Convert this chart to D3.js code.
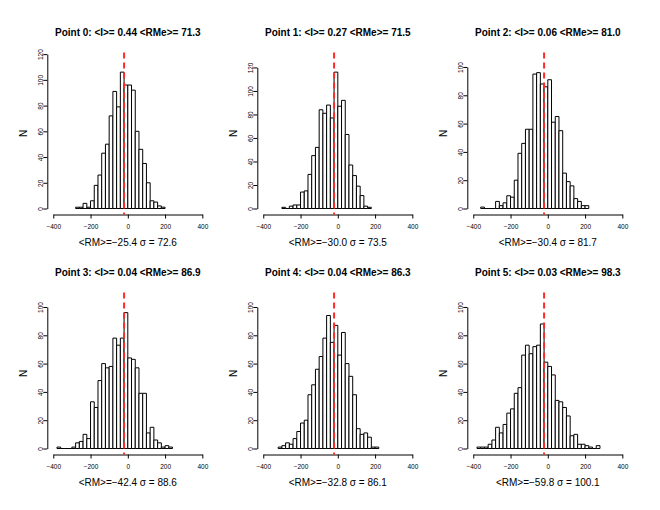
<!DOCTYPE html>
<html>
<head>
<meta charset="utf-8">
<script src="https://cdn.jsdelivr.net/npm/d3@7"></script>
<style>
  body { margin: 0; background: #fff; }
  svg { display: block; }
</style>
</head>
<body>
<script>
// Histogram counts per panel (bin width 20)
const binWidth = 20;
const binStarts = [-280, -300, -360, -380, -320, -380];
const counts0 = [1,1,4,1,6,18,26,43,50,72,91,79,106,96,96,92,60,46,35,20,6,5,2,1];
const counts1 = [1,0,2,3,3,14,15,29,45,52,84,81,88,77,116,87,92,63,37,28,19,11,2,1];
const counts2 = [1,0,0,0,5,2,4,9,8,20,39,46,56,56,95,96,88,86,91,61,65,55,25,19,16,7,5,2,2];
const counts3 = [1,0,0,0,1,4,5,10,7,33,29,48,60,57,58,78,73,78,96,64,63,57,39,39,11,15,6,4,1,2,1];
const counts4 = [1,2,4,3,7,12,18,20,38,45,56,65,78,94,75,87,66,82,60,51,38,14,10,11,8,1,1];
const counts5 = [1,1,1,3,6,15,11,17,25,28,39,43,66,73,67,72,73,88,61,58,52,34,33,29,23,9,10,3,3,2,1,0,2];
const allCounts = [counts0, counts1, counts2, counts3, counts4, counts5];

// Panel annotations
const meanI = [0.44, 0.27, 0.06, 0.04, 0.04, 0.03];
const meanRMe = [71.3, 71.5, 81.0, 86.9, 86.3, 98.3];
const meanRM = [-25.4, -30.0, -30.4, -42.4, -32.8, -59.8];
const sigmaRM = [72.6, 73.5, 81.7, 88.6, 86.1, 100.1];

// Axis limits
const xLimits = [-400, 400];
const xTicks = [-400, -200, 0, 200, 400];
const yLimits = [116.6, 127.6, 106, 106, 106, 106];
const refLine = -20;

const width = 660, height = 510;
const colW = 210, rowH = 240;
const plot = { left: 47.3, right: 208.3, top: 52.5, bottom: 214.5 };
const font = "'Liberation Sans', Arial, Helvetica, sans-serif";

const svg = d3.select("body").append("svg")
    .attr("width", width)
    .attr("height", height);

svg.append("rect").attr("width", width).attr("height", height).attr("fill", "#fff");

allCounts.forEach((counts, i) => {
    const col = i % 3, row = Math.floor(i / 3);
    const g = svg.append("g").attr("transform", `translate(${col * colW},${row * rowH})`);

    // R style 4% extension of the limits
    const xPad = 0.04 * (xLimits[1] - xLimits[0]);
    const x = d3.scaleLinear()
        .domain([xLimits[0] - xPad, xLimits[1] + xPad])
        .range([plot.left, plot.right]);
    const yl = yLimits[i];
    const y = d3.scaleLinear()
        .domain([-0.04 * yl, 1.04 * yl])
        .range([plot.bottom, plot.top]);

    const bins = counts.map((n, k) => ({
        x0: binStarts[i] + k * binWidth,
        x1: binStarts[i] + (k + 1) * binWidth,
        n: n
    }));

    // bars (paths so that empty bins still show a line)
    g.selectAll(".bar")
        .data(bins)
        .enter()
        .append("path")
            .attr("class", "bar")
            .attr("d", d => `M${x(d.x0)},${y(0)}V${y(d.n)}H${x(d.x1)}V${y(0)}Z`)
            .attr("fill", "#fff")
            .attr("stroke", "#000")
            .attr("stroke-width", 1);

    // x axis, line only between first and last tick
    const xAxisScale = d3.scaleLinear().domain(xLimits).range([x(xLimits[0]), x(xLimits[1])]);
    const xAxis = g.append("g")
        .attr("transform", `translate(0,${plot.bottom})`)
        .call(d3.axisBottom(xAxisScale).tickValues(xTicks).tickSize(4).tickSizeOuter(0));
    xAxis.attr("font-family", font).attr("font-size", 6.5);
    xAxis.selectAll("text").attr("y", 14.3).attr("dy", "0").attr("fill", "#000");

    // y axis
    const yTicks = d3.range(0, 1.04 * yl + 0.001, 20);
    const yAxisScale = d3.scaleLinear().domain([0, d3.max(yTicks)]).range([y(0), y(d3.max(yTicks))]);
    const yAxis = g.append("g")
        .attr("transform", `translate(${plot.left},0)`)
        .call(d3.axisLeft(yAxisScale).tickValues(yTicks).tickSize(4).tickSizeOuter(0));
    yAxis.attr("font-family", font).attr("font-size", 6.5);
    yAxis.selectAll("text")
        .attr("transform", "rotate(-90)")
        .attr("x", 0)
        .attr("y", -4.7)
        .attr("dy", "0")
        .attr("text-anchor", "middle")
        .attr("fill", "#000");
    g.selectAll(".domain, .tick line").attr("stroke", "#000");

    // reference line
    g.append("line")
        .attr("x1", x(refLine)).attr("x2", x(refLine))
        .attr("y1", plot.top).attr("y2", plot.bottom)
        .attr("stroke", "#ff2a2a")
        .attr("stroke-width", 2)
        .attr("stroke-dasharray", "6,4");

    const cx = (plot.left + plot.right) / 2;

    // title
    g.append("text")
        .attr("x", cx)
        .attr("y", 36)
        .attr("text-anchor", "middle")
        .attr("font-family", font)
        .attr("font-size", 10)
        .attr("font-weight", "bold")
        .text(`Point ${i}: <I>= ${meanI[i].toFixed(2)} <RMe>= ${meanRMe[i].toFixed(1)}`);

    // y label
    g.append("text")
        .attr("transform", `translate(27,${(plot.top + plot.bottom) / 2}) rotate(-90)`)
        .attr("text-anchor", "middle")
        .attr("font-family", font)
        .attr("font-size", 10)
        .text("N");

    // x label
    g.append("text")
        .attr("x", cx)
        .attr("y", 246.3)
        .attr("text-anchor", "middle")
        .attr("font-family", font)
        .attr("font-size", 10)
        .text(`<RM>=${meanRM[i].toFixed(1).replace("-", "\u2212")} \u03c3 = ${sigmaRM[i].toFixed(1)}`);
});
</script>
</body>
</html>
